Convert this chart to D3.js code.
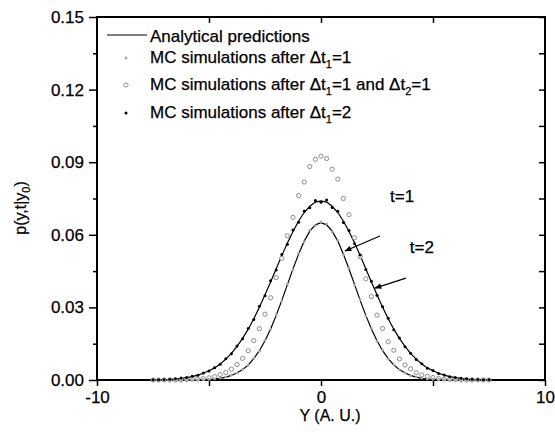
<!DOCTYPE html>
<html>
<head>
<meta charset="utf-8">
<script src="https://cdn.jsdelivr.net/npm/d3@7"></script>
<style>
  body { margin: 0; background: #fff; }
  svg text { font-family: "Liberation Sans", Arial, sans-serif; fill: #000; stroke: #000; stroke-width: 0.25px; }
</style>
</head>
<body>
<div id="canvas"></div>
<script>
// x positions of every sample (Y, arbitrary units)
const xs = [-10,-9.75,-9.5,-9.25,-9,-8.75,-8.5,-8.25,-8,-7.75,-7.5,-7.25,-7,-6.75,-6.5,-6.25,-6,-5.75,-5.5,-5.25,
  -5,-4.75,-4.5,-4.25,-4,-3.75,-3.5,-3.25,-3,-2.75,-2.5,-2.25,-2,-1.75,-1.5,-1.25,-1,-0.75,-0.5,-0.25,
  0,0.25,0.5,0.75,1,1.25,1.5,1.75,2,2.25,2.5,2.75,3,3.25,3.5,3.75,4,4.25,4.5,4.75,
  5,5.25,5.5,5.75,6,6.25,6.5,6.75,7,7.25,7.5,7.75,8,8.25,8.5,8.75,9,9.25,9.5,9.75,10];

// analytical prediction, t=1
const analyticT1 = [0,0,0,0,0,0,0,0,0,0,0,0,0,0,0,0,0,0,0.0001,0.0001,
  0.0003,0.0004,0.0007,0.0012,0.0019,0.0029,0.0043,0.0062,0.0088,0.0121,0.0162,0.0211,0.0267,0.0329,0.0394,0.0459,0.0520,0.0574,0.0615,0.0641,
  0.0650,0.0641,0.0615,0.0574,0.0520,0.0459,0.0394,0.0329,0.0267,0.0211,0.0162,0.0121,0.0088,0.0062,0.0043,0.0029,0.0019,0.0012,0.0007,0.0004,
  0.0003,0.0001,0.0001,0,0,0,0,0,0,0,0,0,0,0,0,0,0,0,0,0,0];

// analytical prediction, t=2
const analyticT2 = [0,0,0,0,0,0,0,0,0,0,0.0001,0.0001,0.0002,0.0003,0.0005,0.0007,0.0010,0.0014,0.0020,0.0028,
  0.0038,0.0050,0.0066,0.0086,0.0110,0.0139,0.0172,0.0210,0.0253,0.0301,0.0352,0.0405,0.0460,0.0514,0.0566,0.0614,0.0657,0.0692,0.0718,0.0735,
  0.0740,0.0735,0.0718,0.0692,0.0657,0.0614,0.0566,0.0514,0.0460,0.0405,0.0352,0.0301,0.0253,0.0210,0.0172,0.0139,0.0110,0.0086,0.0066,0.0050,
  0.0038,0.0028,0.0020,0.0014,0.0010,0.0007,0.0005,0.0003,0.0002,0.0001,0.0001,0,0,0,0,0,0,0,0,0,0];

// MC simulations after dt1=1 (null = no sample there)
const mcStep1 = [null,null,null,null,null,null,null,null,null,null,0,0,0,0,0,0,0,0,0.0001,0.0002,
  0.0003,0.0005,0.0008,0.0012,0.0020,0.0028,0.0044,0.0061,0.0090,0.0119,0.0164,0.0209,0.0270,0.0326,0.0397,0.0455,0.0524,0.0571,0.0619,0.0638,
  0.0653,0.0645,0.0612,0.0577,0.0517,0.0462,0.0391,0.0332,0.0264,0.0213,0.0160,0.0123,0.0086,0.0063,0.0042,0.0030,0.0018,0.0012,0.0008,0.0004,
  0.0003,0.0002,0.0001,0,0,0,0,0,0,0,0,null,null,null,null,null,null,null,null,null,null];

// MC simulations after dt1=1 and dt2=1
const mcTwoSteps = [null,null,null,null,null,null,null,null,null,null,0,0,0,0,0,0,0.0002,0.0003,0.0004,0.0006,
  0.0009,0.0014,0.0022,0.0031,0.0045,0.0064,0.0089,0.0121,0.0163,0.0212,0.0272,0.0340,0.0423,0.0503,0.0596,0.0672,0.0762,0.0818,0.0882,0.0912,
  0.0925,0.0915,0.0871,0.0830,0.0750,0.0683,0.0588,0.0510,0.0418,0.0345,0.0268,0.0213,0.0158,0.0123,0.0087,0.0062,0.0046,0.0030,0.0021,0.0015,
  0.0010,0.0006,0.0004,0.0003,0.0002,0,0,0,0,0,0,null,null,null,null,null,null,null,null,null,null];

// MC simulations after dt1=2
const mcStep2 = [null,null,null,null,null,null,null,null,null,null,0.0001,0.0001,0.0002,0.0003,0.0005,0.0008,0.0010,0.0015,0.0020,0.0029,
  0.0037,0.0051,0.0065,0.0088,0.0108,0.0141,0.0170,0.0213,0.0250,0.0305,0.0348,0.0410,0.0455,0.0519,0.0561,0.0620,0.0652,0.0698,0.0712,0.0742,
  0.0735,0.0744,0.0713,0.0697,0.0651,0.0618,0.0563,0.0517,0.0457,0.0408,0.0350,0.0303,0.0255,0.0208,0.0174,0.0137,0.0111,0.0085,0.0067,0.0049,
  0.0039,0.0027,0.0021,0.0013,0.0010,0.0007,0.0005,0.0003,0.0002,0.0001,0.0001,null,null,null,null,null,null,null,null,null,null];

const yMajor = [0, 0.03, 0.06, 0.09, 0.12, 0.15];
const yMinor = [0.015, 0.045, 0.075, 0.105, 0.135];
const xMajor = [-10, 0, 10];
const xMinor = [-5, 5];

// annotations in data units: [tailX, tailY, headX, headY]
const arrows = [[2.63, 0.0595, 1.07, 0.0533], [3.79, 0.0421, 2.41, 0.0380]];
const notes = [{text: "t=1", x: 3.62, y: 0.0735}, {text: "t=2", x: 4.5, y: 0.0525}];

const w = 555;
const h = 432;
const margin = {top: 17, right: 10, bottom: 52, left: 97};
const width = w - margin.left - margin.right;
const height = h - margin.top - margin.bottom;

const svg = d3.select("#canvas").append("svg")
  .attr("width", w).attr("height", h);

svg.append("defs").append("marker")
  .attr("id", "head")
  .attr("viewBox", "0 0 10 10")
  .attr("refX", 9).attr("refY", 5)
  .attr("markerWidth", 8).attr("markerHeight", 7)
  .attr("markerUnits", "userSpaceOnUse")
  .attr("orient", "auto")
  .append("path").attr("d", "M0,1 L10,5 L0,9 Z").attr("fill", "#000");

const chart = svg.append("g")
  .attr("transform", "translate(" + margin.left + "," + margin.top + ")");

const x = d3.scaleLinear().domain([-10, 10]).range([0, width]);
const y = d3.scaleLinear().domain([0, 0.15]).range([height, 0]);

function styleAxis(g){
  g.select(".domain").remove();
  g.selectAll(".tick line").attr("stroke", "#000").attr("stroke-width", 1.5);
  g.selectAll(".tick text").style("font-size", "17px").attr("fill", "#000");
}

// left axis: major outward, minor shorter
chart.append("g").call(d3.axisLeft(y).tickValues(yMajor).tickFormat(d3.format(".2f")).tickSize(8).tickPadding(5)).call(styleAxis);
chart.append("g").call(d3.axisLeft(y).tickValues(yMinor).tickFormat("").tickSize(4)).call(styleAxis);
// right axis: inward ticks
chart.append("g").attr("transform", "translate(" + width + ",0)")
  .call(d3.axisRight(y).tickValues(yMajor.concat(yMinor)).tickFormat("").tickSize(-6)).call(styleAxis);
// bottom axis
chart.append("g").attr("transform", "translate(0," + height + ")")
  .call(d3.axisBottom(x).tickValues(xMajor.concat(xMinor)).tickFormat(function(d){ return xMajor.indexOf(d) >= 0 ? d : ""; })
    .tickSize(6).tickPadding(5)).call(styleAxis);
// top axis
chart.append("g").call(d3.axisTop(x).tickValues([-5, 0, 5]).tickFormat("").tickSize(-6)).call(styleAxis);

// frame
chart.append("rect")
  .attr("width", width).attr("height", height)
  .attr("fill", "none").attr("stroke", "#000").attr("stroke-width", 2);

const line = d3.line()
  .x(function(d){ return x(d[0]); })
  .y(function(d){ return y(d[1]); });

function pairs(vals){
  return xs.map(function(v, i){ return [v, vals[i]]; })
    .filter(function(d){ return d[1] !== null; });
}

[analyticT1, analyticT2].forEach(function(vals){
  chart.append("path")
    .datum(pairs(vals))
    .attr("d", line)
    .attr("fill", "none")
    .attr("stroke", "#000")
    .attr("stroke-width", 1.2);
});

// MC markers
chart.append("g").selectAll("circle")
  .data(pairs(mcTwoSteps))
  .enter().append("circle")
  .attr("cx", function(d){ return x(d[0]); })
  .attr("cy", function(d){ return y(d[1]); })
  .attr("r", 2.1)
  .attr("fill", "#fff")
  .attr("stroke", "#8c8c8c")
  .attr("stroke-width", 1);

chart.append("g").selectAll("circle")
  .data(pairs(mcStep1))
  .enter().append("circle")
  .attr("cx", function(d){ return x(d[0]); })
  .attr("cy", function(d){ return y(d[1]); })
  .attr("r", 1.4)
  .attr("fill", "#a8a8a8");

chart.append("g").selectAll("circle")
  .data(pairs(mcStep2))
  .enter().append("circle")
  .attr("cx", function(d){ return x(d[0]); })
  .attr("cy", function(d){ return y(d[1]); })
  .attr("r", 1.5)
  .attr("fill", "#000");

// arrows and labels
chart.selectAll(".arrow")
  .data(arrows)
  .enter().append("line")
  .classed("arrow", true)
  .attr("x1", function(d){ return x(d[0]); })
  .attr("y1", function(d){ return y(d[1]); })
  .attr("x2", function(d){ return x(d[2]); })
  .attr("y2", function(d){ return y(d[3]); })
  .attr("stroke", "#000")
  .attr("stroke-width", 1.3)
  .attr("marker-end", "url(#head)");

chart.selectAll(".note")
  .data(notes)
  .enter().append("text")
  .classed("note", true)
  .attr("x", function(d){ return x(d.x); })
  .attr("y", function(d){ return y(d.y); })
  .attr("text-anchor", "middle")
  .style("font-size", "17px")
  .text(function(d){ return d.text; });

// legend
const legend = svg.append("g");
legend.append("line")
  .attr("x1", 107).attr("x2", 147).attr("y1", 35).attr("y2", 35)
  .attr("stroke", "#000").attr("stroke-width", 1.2);
legend.append("circle").attr("cx", 126).attr("cy", 58).attr("r", 1.4)
  .attr("fill", "#a8a8a8");
legend.append("circle").attr("cx", 126).attr("cy", 85).attr("r", 2.1)
  .attr("fill", "#fff").attr("stroke", "#8c8c8c").attr("stroke-width", 1);
legend.append("circle").attr("cx", 126).attr("cy", 113).attr("r", 1.5).attr("fill", "#000");

function legendText(yPos, parts){
  const t = legend.append("text").attr("x", 150).attr("y", yPos).style("font-size", "17px");
  parts.forEach(function(p){
    if (p.sub) {
      t.append("tspan").attr("dy", 5).style("font-size", "11px").text(p.sub);
      t.append("tspan").attr("dy", -5).text(p.after);
    } else {
      t.append("tspan").text(p.text);
    }
  });
}
legendText(42, [{text: "Analytical predictions"}]);
legendText(63, [{text: "MC simulations after \u0394t"}, {sub: "1", after: "=1"}]);
legendText(90, [{text: "MC simulations after \u0394t"}, {sub: "1", after: "=1 and \u0394t"}, {sub: "2", after: "=1"}]);
legendText(118, [{text: "MC simulations after \u0394t"}, {sub: "1", after: "=2"}]);

// axis titles
svg.append("text")
  .attr("x", 330).attr("y", 421)
  .attr("text-anchor", "middle")
  .style("font-size", "16px")
  .text("Y (A. U.)");

const yTitle = svg.append("text")
  .attr("transform", "translate(26,208) rotate(-90)")
  .attr("text-anchor", "middle")
  .style("font-size", "16px");
yTitle.append("tspan").text("p(y,t|y");
yTitle.append("tspan").attr("dy", 4).style("font-size", "11px").text("0");
yTitle.append("tspan").attr("dy", -4).text(")");
</script>
</body>
</html>
